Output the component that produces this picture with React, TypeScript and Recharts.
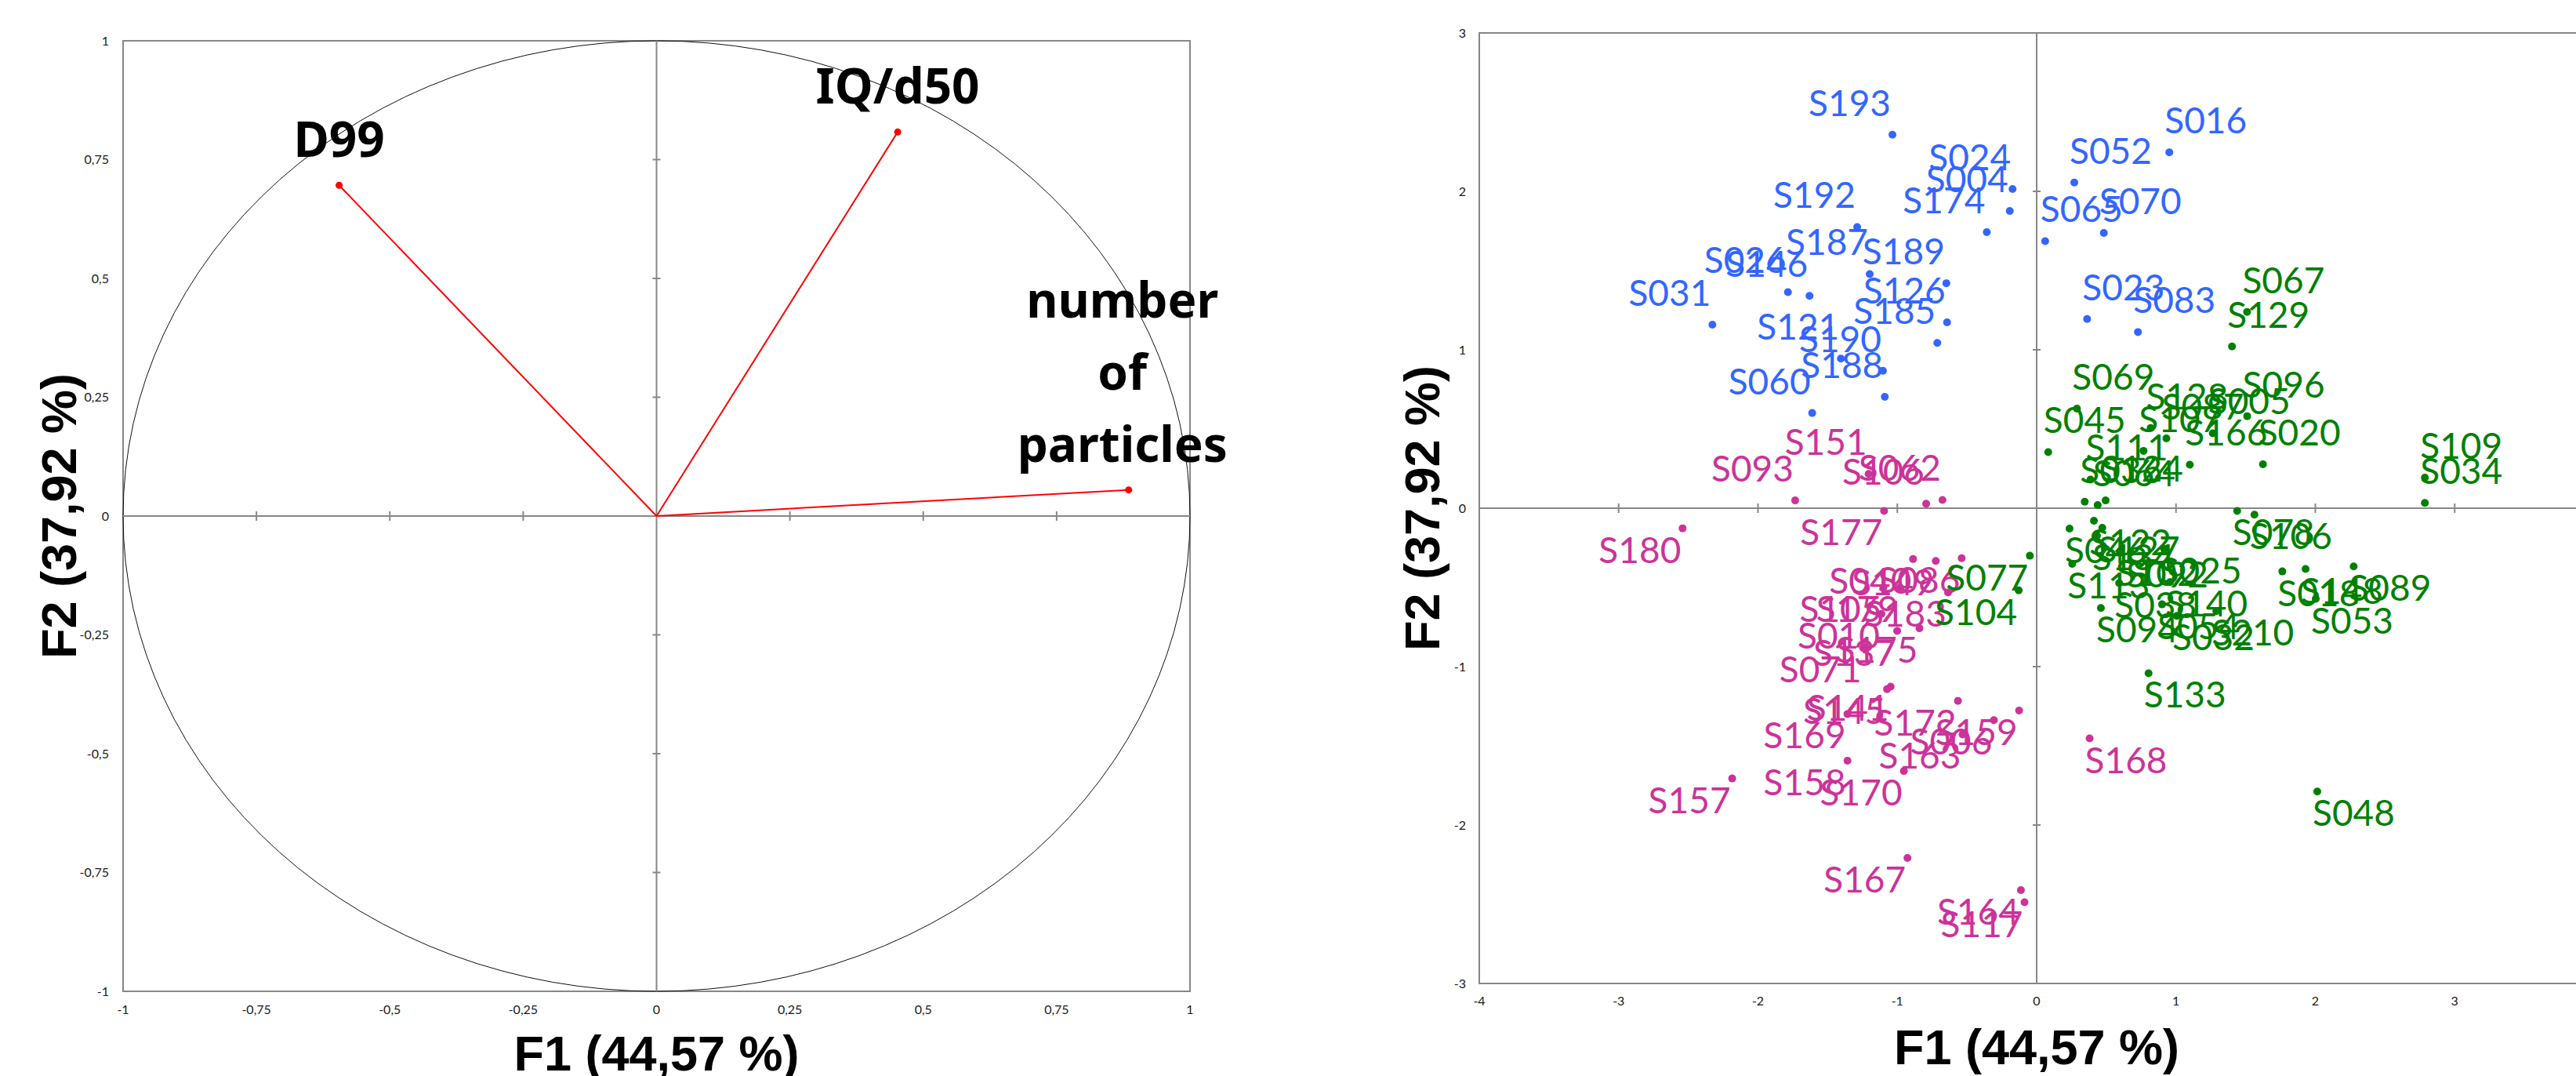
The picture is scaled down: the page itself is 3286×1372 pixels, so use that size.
import React from "react";
import {
  ScatterChart, Scatter, XAxis, YAxis, ReferenceLine, ReferenceArea, ReferenceDot, Label,
} from "recharts";

// variables (correlation circle)
const varNames = [["D99"], ["IQ/d50"], ["number", "of", "particles"]];
const varF1 = [-0.595, 0.452, 0.885];
const varF2 = [0.696, 0.808, 0.055];

// observations, group 1 (blue)
const blueNames = ["S193", "S024", "S004", "S174", "S192", "S187", "S189", "S026", "S146", "S031", "S126",
  "S185", "S121", "S190", "S188", "S060", "S016", "S052", "S070", "S065", "S023", "S083"];
const blueF1 = [-1.035, -0.173, -0.193, -0.358, -1.288, -1.198, -0.648, -1.785, -1.63, -2.327, -0.643,
  -0.713, -1.405, -1.103, -1.09, -1.611, 0.952, 0.27, 0.482, 0.061, 0.362, 0.727];
const blueF2 = [2.358, 2.015, 1.876, 1.743, 1.775, 1.478, 1.42, 1.364, 1.34, 1.158, 1.173,
  1.043, 0.944, 0.868, 0.703, 0.601, 2.246, 2.056, 1.738, 1.686, 1.194, 1.112];

// group 2 (magenta)
const pinkNames = ["S151", "S093", "S106", "S062", "S177", "S180", "S040", "S149", "S086", "S105", "S179",
  "S183", "S010", "S137", "S175", "S071", "S141", "S145", "S172", "S159", "S006", "S163", "S169", "S158",
  "S170", "S157", "S167", "S164", "S117", "S168"];
const pinkF1 = [-1.206, -1.733, -0.793, -0.676, -1.095, -2.541, -0.887, -0.724, -0.538, -1.1, -0.98,
  -0.636, -1.114, -1.001, -0.841, -1.245, -1.048, -1.074, -0.565, -0.126, -0.307, -0.532, -1.358, -1.358,
  -0.953, -2.185, -0.927, -0.113, -0.087, 0.38];
const pinkF2 = [0.217, 0.049, 0.028, 0.052, -0.017, -0.127, -0.321, -0.333, -0.316, -0.5, -0.5,
  -0.532, -0.667, -0.775, -0.758, -0.882, -1.126, -1.142, -1.216, -1.277, -1.338, -1.428, -1.299, -1.594,
  -1.659, -1.706, -2.208, -2.411, -2.488, -1.453];

// group 3 (green)
const greenNames = ["S067", "S129", "S069", "S045", "S128", "S087", "S107", "S005", "S096", "S166", "S020",
  "S111", "S109", "S034", "S036", "S064", "S124", "S078", "S106", "S046", "S122", "S127", "S134", "S077",
  "S104", "S113", "S025", "S102", "S092", "S038", "S140", "S094", "S054", "S032", "S210", "S018", "S148",
  "S089", "S053", "S133", "S048"];
const greenF1 = [1.51, 1.402, 0.289, 0.083, 0.818, 0.931, 0.767, 1.264, 1.511, 1.099, 1.624,
  0.386, 2.786, 2.786, 0.345, 0.438, 0.495, 1.439, 1.563, 0.236, 0.411, 0.471, 0.433, -0.049,
  -0.129, 0.255, 0.915, 0.6, 0.675, 0.592, 0.957, 0.461, 0.9, 1.007, 1.29, 1.763, 1.93,
  2.275, 2.003, 0.803, 2.014];
const greenF2 = [1.239, 1.021, 0.629, 0.354, 0.506, 0.441, 0.362, 0.473, 0.581, 0.275, 0.277,
  0.181, 0.193, 0.033, 0.041, 0.02, 0.049, -0.017, -0.041, -0.129, -0.079, -0.124, -0.173, -0.3,
  -0.519, -0.351, -0.256, -0.27, -0.28, -0.473, -0.467, -0.63, -0.607, -0.68, -0.65, -0.399, -0.384,
  -0.368, -0.572, -1.042, -1.788];

const circleTicks = [-1, -0.75, -0.5, -0.25, 0, 0.25, 0.5, 0.75, 1];
const obsTicksX = [-4, -3, -2, -1, 0, 1, 2, 3, 4];
const obsTicksY = [-3, -2, -1, 0, 1, 2, 3];

const xTitle = "F1 (44,57 %)";
const yTitle = "F2 (37,92 %)";

const AXIS = "#878787";
const tickStyle = { fontSize: 16, fill: "#1a1a1a", fontFamily: "Lato" };
const fmt = (v: number) => String(v).replace(".", ",");

const zip = (names: string[], f1: number[], f2: number[]) =>
  names.map((name, i) => ({ name, x: f1[i], y: f2[i] }));

const varPoints = varNames.map((lines, i) => ({ lines, x: varF1[i], y: varF2[i] }));
const bluePoints = zip(blueNames, blueF1, blueF2);
const pinkPoints = zip(pinkNames, pinkF1, pinkF2);
const greenPoints = zip(greenNames, greenF1, greenF2);

function YTitle({ viewBox, shift }: any) {
  if (!viewBox) return null;
  const x = viewBox.x + shift;
  const y = viewBox.y + viewBox.height / 2;
  return (
    <text transform={`translate(${x},${y}) rotate(-90)`} textAnchor="middle" fontSize={63}
      fontWeight={700} fontFamily="Liberation Sans" fill="#000">{yTitle}</text>
  );
}

// small cross ticks on the axes that pass through the origin
const xMark = (p: any) => <line x1={p.cx} x2={p.cx} y1={p.cy - 6} y2={p.cy + 6} stroke={AXIS} strokeWidth={2} />;
const yMark = (p: any) => <line x1={p.cx - 5} x2={p.cx + 5} y1={p.cy} y2={p.cy} stroke={AXIS} strokeWidth={2} />;

function VarShape({ cx, cy, payload }: any) {
  if (cx == null || cy == null) return null;
  const lines: string[] = payload.lines;
  return (
    <g>
      <circle cx={cx} cy={cy} r={4.5} fill="#ff0000" />
      {lines.map((l, i) => (
        <text key={i} x={lines.length > 1 ? cx - 8 : cx} y={cy - 36 - (lines.length - 1 - i) * 92} textAnchor="middle"
          fontSize={62} fontWeight={700} fontFamily="Noto Sans" fill="#000">{l}</text>
      ))}
    </g>
  );
}

function ObsShape({ cx, cy, payload, color }: any) {
  if (cx == null || cy == null) return null;
  const left = payload.x < 0;
  const above = payload.y > 0;
  return (
    <g>
      <circle cx={cx} cy={cy} r={5} fill={color} />
      <text x={left ? cx - 2 : cx - 6} y={above ? cy - 24 : cy + 44} textAnchor={left ? "end" : "start"}
        fontSize={46} fontFamily="Lato" fill={color}>{payload.name}</text>
    </g>
  );
}

function CircleChart() {
  return (
    <ScatterChart width={1640} height={1372} margin={{ top: 52, right: 122, bottom: 68, left: 97 }}>
      <XAxis type="number" dataKey="x" domain={[-1, 1]} ticks={circleTicks} tickFormatter={fmt}
        axisLine={false} tickLine={false} tickSize={6} tickMargin={12} height={40} tick={tickStyle}>
        <Label value={xTitle} position="bottom" offset={16}
          style={{ fontSize: 63, fontWeight: 700, fontFamily: "Liberation Sans", fill: "#000" }} />
      </XAxis>
      <YAxis type="number" dataKey="y" domain={[-1, 1]} ticks={circleTicks} tickFormatter={fmt}
        axisLine={false} tickLine={false} tickSize={6} tickMargin={12} width={60} tick={tickStyle}>
        <Label content={<YTitle shift={0} />} />
      </YAxis>
      <ReferenceArea x1={-1} x2={1} y1={-1} y2={1} shape={(p: any) => (
        <g>
          <rect x={p.x} y={p.y} width={p.width} height={p.height} fill="none" stroke={AXIS} strokeWidth={2} />
          <ellipse cx={p.x + p.width / 2} cy={p.y + p.height / 2} rx={p.width / 2} ry={p.height / 2}
            fill="none" stroke="#111" strokeWidth={1} />
        </g>
      )} />
      <ReferenceLine x={0} stroke={AXIS} strokeWidth={2} />
      <ReferenceLine y={0} stroke={AXIS} strokeWidth={2} />
      {circleTicks.filter(t => t !== 0 && Math.abs(t) !== 1).map(t => (
        <ReferenceDot key={"x" + t} x={t} y={0} r={0} shape={xMark} />
      ))}
      {circleTicks.filter(t => t !== 0 && Math.abs(t) !== 1).map(t => (
        <ReferenceDot key={"y" + t} x={0} y={t} r={0} shape={yMark} />
      ))}
      {varPoints.map((v, i) => (
        <Scatter key={i} data={[{ x: 0, y: 0 }, { x: v.x, y: v.y }]} line={{ stroke: "#ff0000", strokeWidth: 2 }}
          shape={() => <g />} isAnimationActive={false} />
      ))}
      <Scatter data={varPoints} shape={<VarShape />} isAnimationActive={false} />
    </ScatterChart>
  );
}

function ObsChart() {
  return (
    <ScatterChart width={1660} height={1372} margin={{ top: 42, right: 51, bottom: 78, left: 127 }}>
      <XAxis type="number" dataKey="x" domain={[-4, 4]} ticks={obsTicksX} axisLine={false} tickLine={false}
        tickSize={6} tickMargin={11} height={40} tick={tickStyle}>
        <Label value={xTitle} position="bottom" offset={18}
          style={{ fontSize: 63, fontWeight: 700, fontFamily: "Liberation Sans", fill: "#000" }} />
      </XAxis>
      <YAxis type="number" dataKey="y" domain={[-3, 3]} ticks={obsTicksY} axisLine={false} tickLine={false}
        tickSize={6} tickMargin={11} width={60} tick={tickStyle}>
        <Label content={<YTitle shift={9} />} />
      </YAxis>
      <ReferenceArea x1={-4} x2={4} y1={-3} y2={3} shape={(p: any) => (
        <rect x={p.x} y={p.y} width={p.width} height={p.height} fill="none" stroke={AXIS} strokeWidth={2} />
      )} />
      <ReferenceLine x={0} stroke={AXIS} strokeWidth={2} />
      <ReferenceLine y={0} stroke={AXIS} strokeWidth={2} />
      {obsTicksX.filter(t => t !== 0 && Math.abs(t) !== 4).map(t => (
        <ReferenceDot key={"x" + t} x={t} y={0} r={0} shape={xMark} />
      ))}
      {obsTicksY.filter(t => t !== 0 && Math.abs(t) !== 3).map(t => (
        <ReferenceDot key={"y" + t} x={0} y={t} r={0} shape={yMark} />
      ))}
      <Scatter data={bluePoints} shape={<ObsShape color="#3366ff" />} isAnimationActive={false} />
      <Scatter data={pinkPoints} shape={<ObsShape color="#cc3399" />} isAnimationActive={false} />
      <Scatter data={greenPoints} shape={<ObsShape color="#008000" />} isAnimationActive={false} />
    </ScatterChart>
  );
}

export default function App() {
  return (
    <div style={{ position: "absolute", left: 0, top: 0, width: 3286, height: 1372, overflow: "hidden", background: "#fff" }}>
      <div style={{ position: "absolute", left: 1700, top: 0 }}>
        <ObsChart />
      </div>
      <div style={{ position: "absolute", left: 0, top: 0 }}>
        <CircleChart />
      </div>
    </div>
  );
}
